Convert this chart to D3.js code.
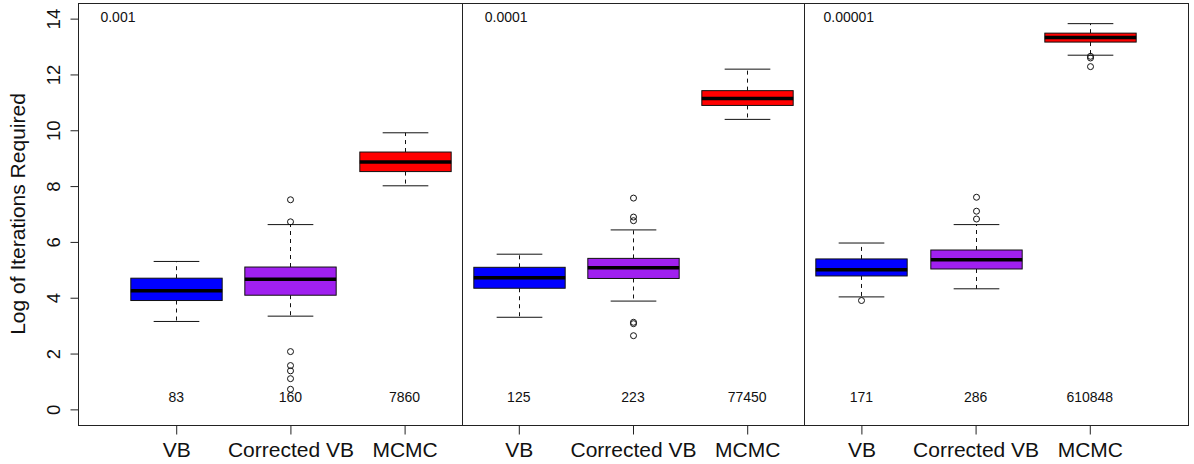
<!DOCTYPE html>
<html>
<head>
<meta charset="utf-8">
<script src="https://cdn.jsdelivr.net/npm/d3@7"></script>
<style>
  html, body { margin: 0; padding: 0; background: #fff; }
  svg { display: block; font-family: "Liberation Sans", Arial, sans-serif; }
</style>
</head>
<body>
<svg id="chart" width="1194" height="464"></svg>
<script>
// Iterations needed to reach each tolerance, three methods per tolerance.
const methods = ["VB", "Corrected VB", "MCMC", "VB", "Corrected VB", "MCMC", "VB", "Corrected VB", "MCMC"];
const tolerances = ["0.001", "0.0001", "0.00001"];
const tolerancePos = [0.49, 3.89, 6.89];
const medianCounts = ["83", "160", "7860", "125", "223", "77450", "171", "286", "610848"];
const fills = ["#0000FF", "#A020F0", "#FF0000", "#0000FF", "#A020F0", "#FF0000", "#0000FF", "#A020F0", "#FF0000"];

// Five-number summaries on the log scale
const whiskerLow  = [3.15, 3.34, 8.01, 3.30, 3.88, 10.39, 4.03, 4.32, 12.69];
const q1          = [3.90, 4.09, 8.52, 4.34, 4.69, 10.89, 4.78, 5.03, 13.16];
const medians     = [4.25, 4.66, 8.86, 4.72, 5.07, 11.14, 5.00, 5.36, 13.32];
const q3          = [4.70, 5.10, 9.22, 5.09, 5.41, 11.42, 5.39, 5.71, 13.48];
const whiskerHigh = [5.30, 6.62, 9.91, 5.56, 6.43, 12.19, 5.96, 6.62, 13.82];
const outliers = [
  [],
  [7.51, 6.72, 2.07, 1.57, 1.38, 1.10, 0.72],
  [],
  [],
  [7.57, 6.89, 6.76, 3.12, 3.07, 2.64],
  [],
  [3.90],
  [7.60, 7.10, 6.82],
  [12.65, 12.59, 12.28]
];
const yTicks = [0, 2, 4, 6, 8, 10, 12, 14];
const panelBreaks = [3.5, 6.5];
const countLevel = 0.45;
const toleranceLevel = 14.06;

const svg = d3.select("#chart");
const plotLeft = 78, plotRight = 1188, plotTop = 3, plotBottom = 425;

const x = d3.scaleLinear().domain([0.14, 9.86]).range([plotLeft, plotRight]);
const y = d3.scaleLinear().domain([-0.56, 14.56]).range([plotBottom, plotTop]);

const positions = d3.range(1, methods.length + 1);
const boxW = x(1.4) - x(1);      // half of 0.8 box width
const capW = x(1.2) - x(1);      // half of 0.4 staple width

// Axes
const yAxis = d3.axisLeft(y).tickValues(yTicks).tickSize(8).tickSizeOuter(0);
const gy = svg.append("g").attr("transform", `translate(${plotLeft + 0.5},0)`).call(yAxis);
gy.select(".domain").remove();
gy.selectAll("line").attr("stroke", "#222");
gy.selectAll("text")
  .attr("x", null).attr("dy", null)
  .attr("transform", "translate(-18.5,0) rotate(-90)")
  .attr("text-anchor", "middle")
  .attr("font-size", 18.5).attr("fill", "#111")
  .style("font-family", '"Liberation Sans", Arial, sans-serif');

const xAxis = d3.axisBottom(x).tickValues(positions).tickFormat((d, i) => methods[i])
  .tickSize(9).tickSizeOuter(0).tickPadding(8);
const gx = svg.append("g").attr("transform", `translate(0,${plotBottom + 0.5})`).call(xAxis);
gx.select(".domain").remove();
gx.selectAll("line").attr("stroke", "#222");
gx.selectAll("text")
  .attr("font-size", 21).attr("fill", "#111")
  .style("font-family", '"Liberation Sans", Arial, sans-serif');

// Axis title
svg.append("text")
  .attr("transform", `translate(25,${(plotTop + plotBottom) / 2}) rotate(-90)`)
  .attr("text-anchor", "middle")
  .attr("font-size", 21).attr("fill", "#111")
  .text("Log of Iterations Required");

// Boxes
const g = svg.append("g");
positions.forEach((p, i) => {
  const cx = Math.round(x(p)) + 0.5;
  // dashed whiskers
  g.append("line").attr("x1", cx).attr("x2", cx)
    .attr("y1", y(q3[i])).attr("y2", y(whiskerHigh[i]))
    .attr("stroke", "#111").attr("stroke-dasharray", "4,4");
  g.append("line").attr("x1", cx).attr("x2", cx)
    .attr("y1", y(q1[i])).attr("y2", y(whiskerLow[i]))
    .attr("stroke", "#111").attr("stroke-dasharray", "4,4");
  // staples
  [whiskerHigh[i], whiskerLow[i]].forEach(v => {
    g.append("line").attr("x1", cx - capW).attr("x2", cx + capW)
      .attr("y1", y(v)).attr("y2", y(v)).attr("stroke", "#111");
  });
  // box
  g.append("rect")
    .attr("x", cx - boxW).attr("width", 2 * boxW)
    .attr("y", y(q3[i])).attr("height", y(q1[i]) - y(q3[i]))
    .attr("fill", fills[i]).attr("stroke", "#111");
  // median
  g.append("line").attr("x1", cx - boxW).attr("x2", cx + boxW)
    .attr("y1", y(medians[i])).attr("y2", y(medians[i]))
    .attr("stroke", "#000").attr("stroke-width", 3.5);
  // outliers
  outliers[i].forEach(v => {
    g.append("circle").attr("cx", cx).attr("cy", y(v)).attr("r", 3)
      .attr("fill", "none").attr("stroke", "#111");
  });
  // median iteration count
  g.append("text").attr("x", x(p)).attr("y", y(countLevel)).attr("dy", "0.36em")
    .attr("text-anchor", "middle").attr("font-size", 14).attr("fill", "#111")
    .text(medianCounts[i]);
});

// Tolerance labels per panel
tolerances.forEach((t, k) => {
  svg.append("text").attr("x", x(tolerancePos[k])).attr("y", y(toleranceLevel)).attr("dy", "0.36em")
    .attr("text-anchor", "middle").attr("font-size", 14).attr("fill", "#111")
    .text(t);
});

// Panel separators and frame
panelBreaks.forEach(b => {
  svg.append("line").attr("x1", Math.round(x(b)) + 0.5).attr("x2", Math.round(x(b)) + 0.5)
    .attr("y1", plotTop).attr("y2", plotBottom).attr("stroke", "#222");
});
svg.append("rect").attr("x", plotLeft + 0.5).attr("y", plotTop + 0.5)
  .attr("width", plotRight - plotLeft).attr("height", plotBottom - plotTop)
  .attr("fill", "none").attr("stroke", "#222");
</script>
</body>
</html>
